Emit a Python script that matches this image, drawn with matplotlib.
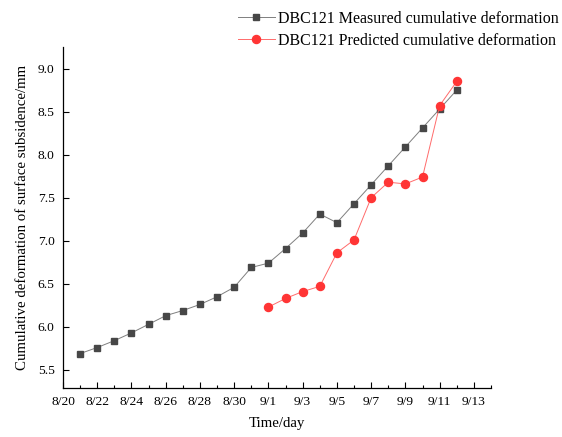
import datetime as dt
import matplotlib
matplotlib.use("Agg")
import matplotlib.pyplot as plt
import matplotlib.dates as mdates
from matplotlib.ticker import FuncFormatter, FormatStrFormatter

# measured series, 8/21 - 9/12
measured_days = ["8/21", "8/22", "8/23", "8/24", "8/25", "8/26", "8/27", "8/28",
                 "8/29", "8/30", "8/31", "9/1", "9/2", "9/3", "9/4", "9/5",
                 "9/6", "9/7", "9/8", "9/9", "9/10", "9/11", "9/12"]
measured = [5.69, 5.76, 5.84, 5.93, 6.03, 6.13, 6.19, 6.26, 6.35, 6.46, 6.69,
            6.74, 6.91, 7.09, 7.31, 7.21, 7.43, 7.65, 7.87, 8.09, 8.31, 8.53, 8.75]

# predicted series, 9/1 - 9/12
predicted_days = ["9/1", "9/2", "9/3", "9/4", "9/5", "9/6", "9/7", "9/8",
                  "9/9", "9/10", "9/11", "9/12"]
predicted = [6.23, 6.33, 6.41, 6.47, 6.86, 7.01, 7.50, 7.68, 7.66, 7.74, 8.57, 8.85]

x_range = ("8/20", "9/14")
y_ticks = [5.5, 6.0, 6.5, 7.0, 7.5, 8.0, 8.5, 9.0]


def to_date(s):
    m, d = s.split("/")
    return dt.datetime(2021, int(m), int(d))


plt.rcParams["font.family"] = ["Liberation Serif", "DejaVu Serif"]

fig = plt.figure(figsize=(5.62, 4.37), dpi=100)
ax = fig.add_axes([63 / 562, 49 / 437, 428 / 562, 341 / 437])

ax.plot([to_date(s) for s in measured_days], measured, color="#7f7f7f", lw=0.7,
        marker="s", ms=5, mfc="#474747", mec="#474747",
        label="DBC121 Measured cumulative deformation")
ax.plot([to_date(s) for s in predicted_days], predicted, color="#ff6b6b", lw=0.7,
        marker="o", ms=5.8, mfc="#ff3535", mec="#ff3535",
        label="DBC121 Predicted cumulative deformation")

ax.set_xlim(to_date(x_range[0]), to_date(x_range[1]))
ax.set_ylim(5.29, 9.25)
ax.set_yticks(y_ticks)
ax.yaxis.set_major_formatter(FormatStrFormatter("%.1f"))

ax.xaxis.set_major_locator(mdates.DayLocator(bymonthday=[20, 22, 24, 26, 28, 30, 1, 3, 5, 7, 9, 11, 13]))
ax.xaxis.set_minor_locator(mdates.DayLocator())
ax.xaxis.set_major_formatter(FuncFormatter(
    lambda v, p: "{}/{}".format(mdates.num2date(v).month, mdates.num2date(v).day)))

for side in ("top", "right"):
    ax.spines[side].set_visible(False)
for side in ("left", "bottom"):
    ax.spines[side].set_linewidth(0.9)

ax.tick_params(which="major", direction="in", length=4.5, width=0.8,
               labelsize=9.7, pad=6)
ax.tick_params(which="minor", direction="in", length=2.2, width=0.8)

ax.set_xlabel("Time/day", fontsize=10.7, labelpad=6)
ax.set_ylabel("Cumulative deformation of surface subsidence/mm", fontsize=10.7, labelpad=6)

fig.legend(loc="upper left", bbox_to_anchor=(238 / 562, 0.975), frameon=False,
           fontsize=11.5, handlelength=2.3, handletextpad=0.2, labelspacing=0.38,
           borderpad=0, borderaxespad=0)

fig.savefig("out.png", dpi=100)
